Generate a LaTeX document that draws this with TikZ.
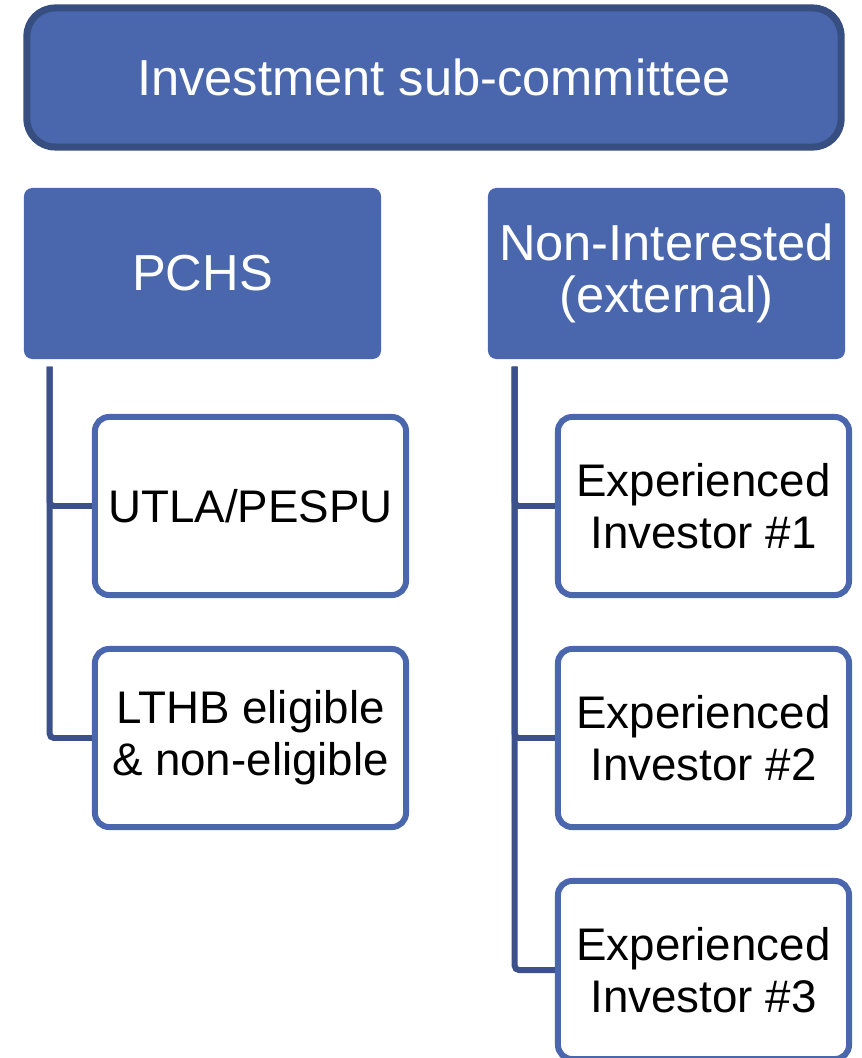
\documentclass[tikz,border=0pt]{standalone}
\usepackage{fontspec}
\setmainfont{Liberation Sans}
\usetikzlibrary{positioning}
\definecolor{boxblue}{HTML}{4A67AE}
\definecolor{rimblue}{HTML}{374E80}
\definecolor{linkblue}{HTML}{3C5089}
\tikzset{
      headbox/.style={
        rounded corners=20pt,
        draw=rimblue,
        line width=5pt,
        fill=boxblue,
        text=white,
        minimum width=20.35cm,
        minimum height=3.475cm,
        align=center,
        font=\fontsize{36}{37}\selectfont
      },
      groupbox/.style={
        rounded corners=6pt,
        fill=boxblue,
        text=white,
        minimum width=8.925cm,
        minimum height=4.275cm,
        align=center,
        inner sep=2pt,
        font=\fontsize{36}{37}\selectfont
      },
      memberbox/.style={
        rounded corners=10pt,
        draw=boxblue,
        line width=4.25pt,
        fill=white,
        minimum width=7.775cm,
        minimum height=4.45cm,
        align=center,
        inner sep=2pt,
        font=\fontsize{32.5}{37}\selectfont
      },
      investorbox/.style={
        memberbox,
        minimum width=7.275cm
      },
      link/.style={
        draw=linkblue,
        line width=4.25pt,
        rounded corners=3pt
      }
    }
\begin{document}
\begin{tikzpicture}[x=0.025cm,y=-0.025cm]
    \useasboundingbox (0,0) rectangle (861,1058);
    \node[headbox] (isc) at (434,77.5) {Investment sub-committee};
    \node[groupbox] (pchs) at (202.5,273.5) {PCHS};
    \node[groupbox] (nonint) at (666.5,273.5) {Non-Interested\\(external)};
    \node[memberbox] (utla) at (250.5,506) {UTLA/PESPU};
    \node[memberbox] (lthb) at (250.5,738) {LTHB eligible\\\& non-eligible};
    \node[investorbox] (inv1) at (703.5,506) {Experienced\\Investor \#1};
    \node[investorbox] (inv2) at (703.5,738) {Experienced\\Investor \#2};
    \node[investorbox] (inv3) at (703.5,970) {Experienced\\Investor \#3};
    \draw[link] ([xshift=0.65cm,yshift=-0.18cm]pchs.south west) |- (utla.west);
    \draw[link] ([xshift=0.65cm,yshift=-0.18cm]pchs.south west) |- (lthb.west);
    \draw[link] ([xshift=0.675cm,yshift=-0.18cm]nonint.south west) |- (inv1.west);
    \draw[link] ([xshift=0.675cm,yshift=-0.18cm]nonint.south west) |- (inv2.west);
    \draw[link] ([xshift=0.675cm,yshift=-0.18cm]nonint.south west) |- (inv3.west);
\end{tikzpicture}
\end{document}
